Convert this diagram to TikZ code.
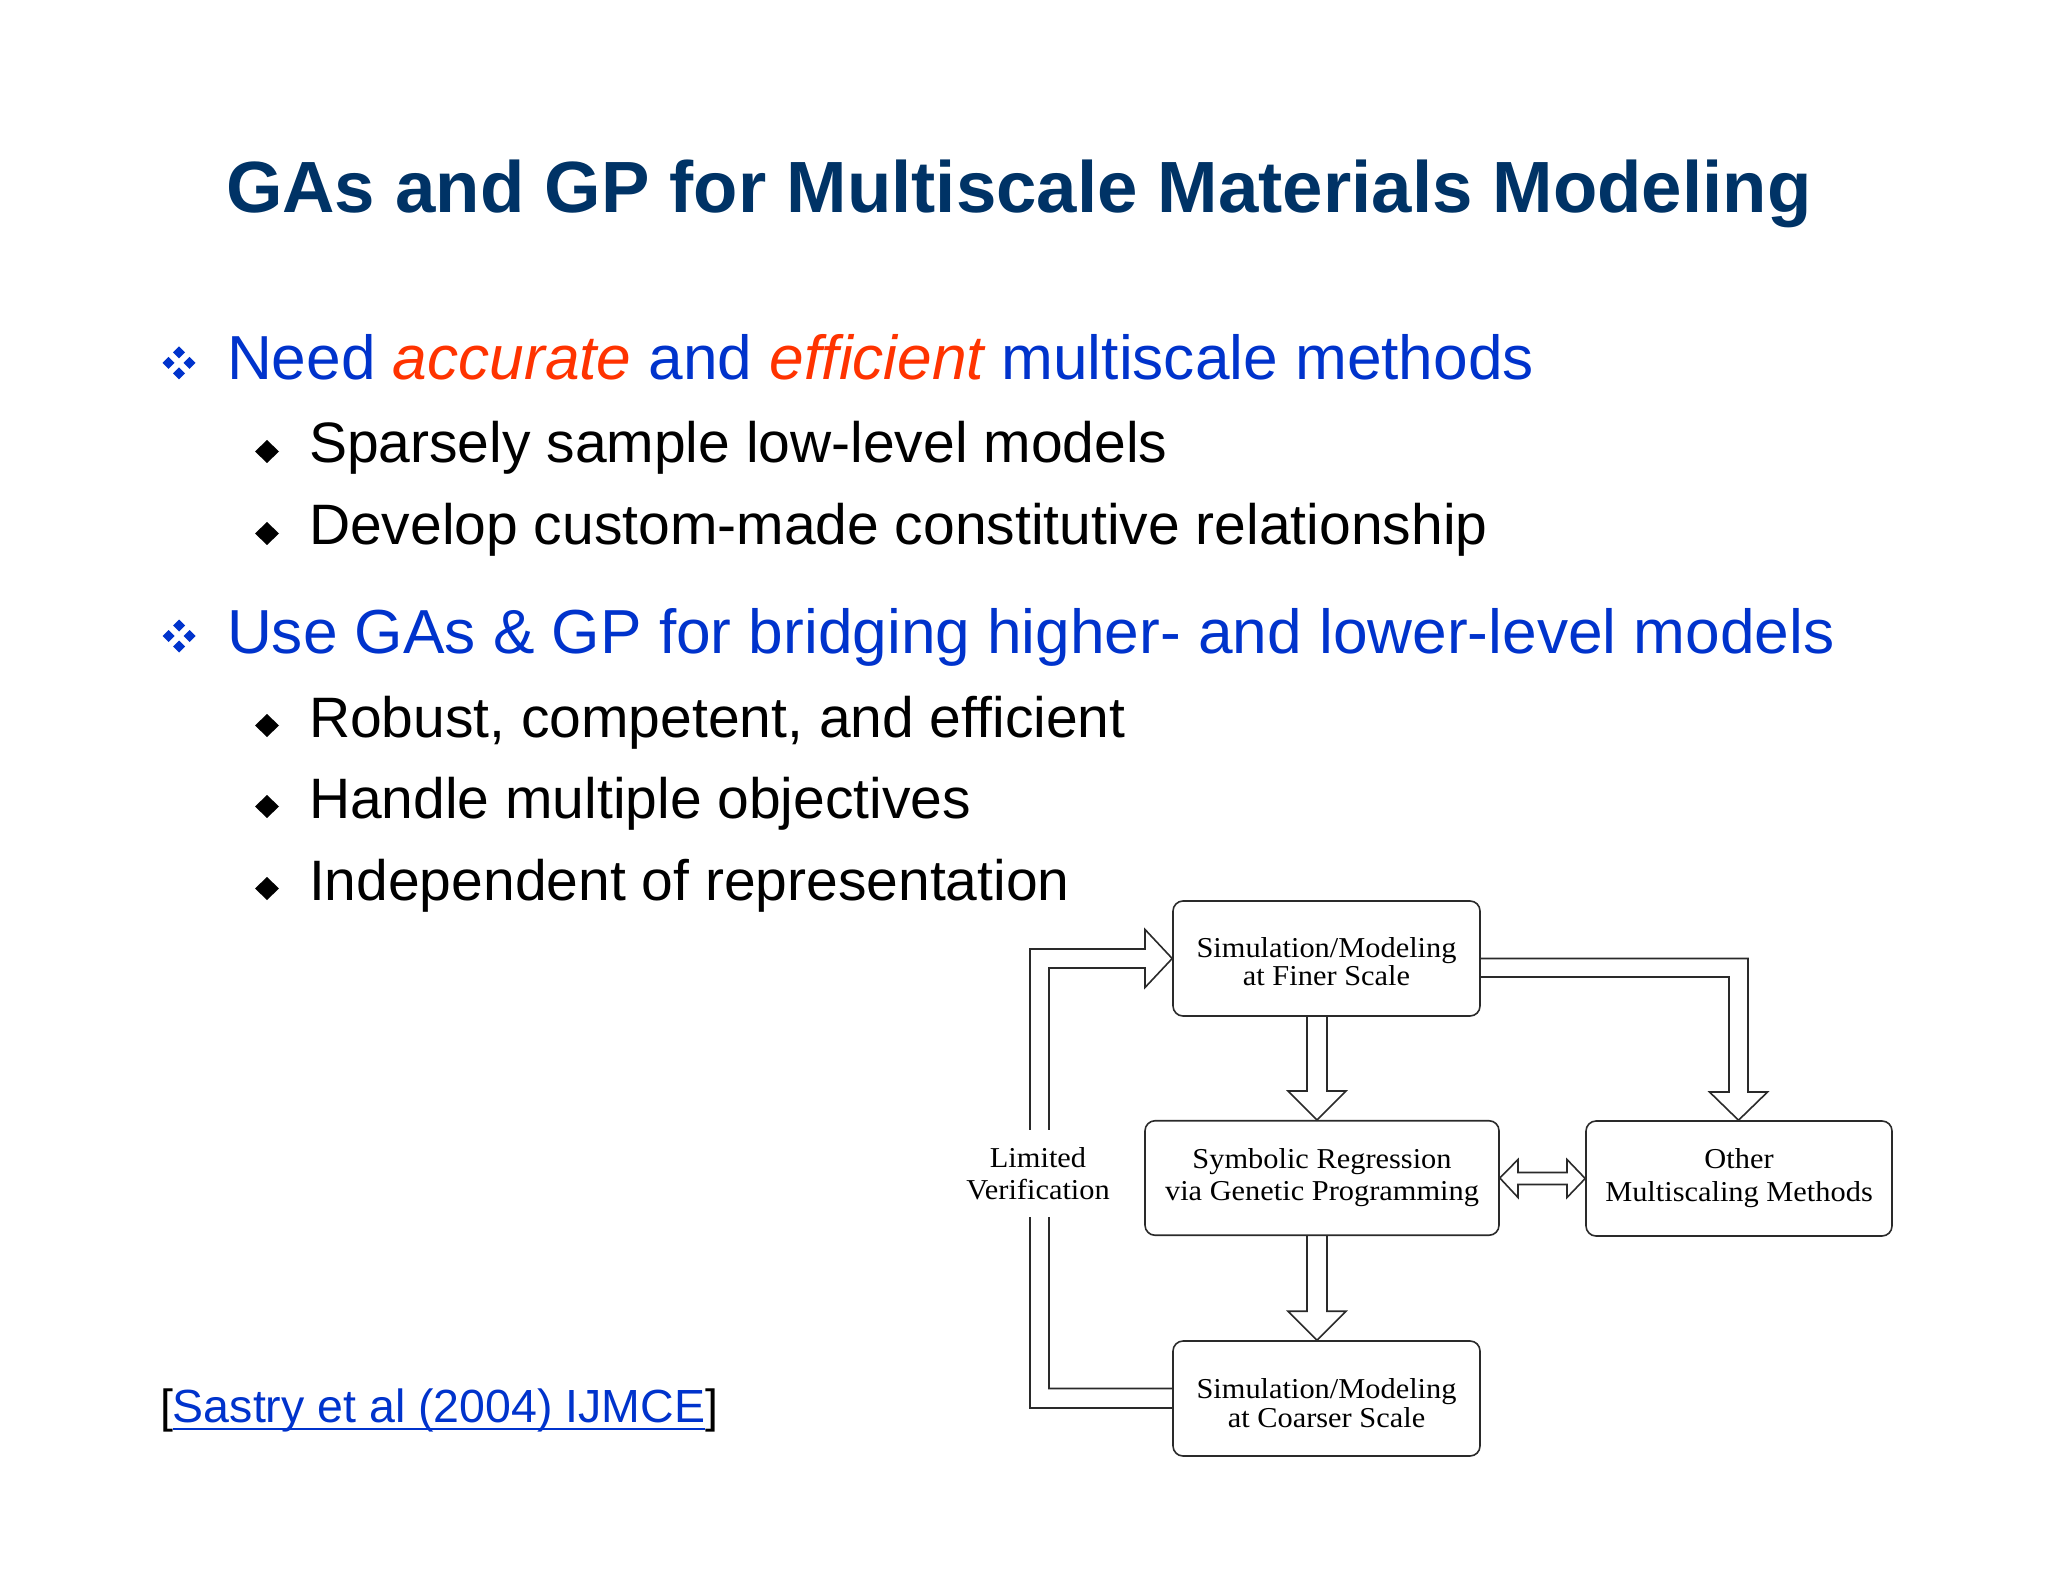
\documentclass[tikz,border=0pt]{standalone}
\usepackage{fontspec}
\setmainfont{Liberation Sans}
\newfontfamily\serifd[FakeStretch=1.055]{Liberation Serif}
\usetikzlibrary{calc}
\definecolor{titleblue}{HTML}{003366}
\definecolor{mainblue}{HTML}{0033CC}
\definecolor{accentred}{HTML}{FF3300}
\definecolor{linecol}{HTML}{2A2A2A}
\newcommand\hollowdown[2]{\draw[hollow] let \p1=(#1), \p2=(#2) in
  (\x1-5pt,\y1) -- (\x1-5pt,\y2+14.5pt) -- (\x1-14.5pt,\y2+14.5pt) -- (\x1,\y2)
  -- (\x1+14.5pt,\y2+14.5pt) -- (\x1+5pt,\y2+14.5pt) -- (\x1+5pt,\y1);}
\begin{document}
\begin{tikzpicture}[x=0.5pt,y=-0.5pt,
  txt/.style={anchor=base west, inner sep=0pt, outer sep=0pt},
  titletxt/.style={txt, font=\fontsize{36.3}{40}\selectfont\bfseries, text=titleblue},
  lvlone/.style={txt, font=\fontsize{31.1}{36}\selectfont, text=mainblue},
  lvltwo/.style={txt, font=\fontsize{28.5}{34}\selectfont, text=black},
  citetxt/.style={txt, font=\fontsize{23.25}{28}\selectfont},
  box/.style={draw=linecol, line width=0.8pt, rounded corners=5pt, align=center,
    inner sep=0pt, minimum width=153.5pt, minimum height=57.5pt},
  hollow/.style={draw=linecol, line width=0.8pt, line join=miter},
  fourdia/.pic={
    \foreach \dx/\dy in {0/-10.5,0/10.5,-10.5/0,10.5/0}
      \fill[mainblue] (\dx,\dy-6) -- (\dx+6,\dy) -- (\dx,\dy+6) -- (\dx-6,\dy) -- cycle;},
  onedia/.pic={\fill[black] (0,-11.5) -- (12,0) -- (0,11.5) -- (-12,0) -- cycle;},
]
\useasboundingbox (0,0) rectangle (2048,1582);
\fill[white] (0,0) rectangle (2048,1582);

% title
\node[titletxt] (title) at (226,213) {GAs and GP for Multiscale Materials Modeling};

% bullets
\pic at (179,363) {fourdia};
\node[lvlone] (b1) at (227,380) {Need \textcolor{accentred}{\itshape accurate} and \textcolor{accentred}{\itshape efficient} multiscale methods};
\pic at (267,451.5) {onedia};
\node[lvltwo] (s1) at (309,463) {Sparsely sample low-level models};
\pic at (267,533.5) {onedia};
\node[lvltwo] (s2) at (309,545) {Develop custom-made constitutive relationship};

\pic at (179,636) {fourdia};
\node[lvlone] (b2) at (227,653) {Use GAs \& GP for bridging higher- and lower-level models};
\pic at (267,725.5) {onedia};
\node[lvltwo] (s3) at (309,737) {Robust, competent, and efficient};
\pic at (267,806.5) {onedia};
\node[lvltwo] (s4) at (309,818) {Handle multiple objectives};
\pic at (267,888.5) {onedia};
\node[lvltwo] (s5) at (309,900) {Independent of representation};

% citation
\node[citetxt] (citel) at (160,1422) {[};
\node[citetxt, text=mainblue] (citet) at (citel.base east) {Sastry et al (2004) IJMCE};
\node[citetxt] (citer) at (citet.base east) {]};
\draw[mainblue, line width=1pt] ($(citet.base west)+(0,7)$) -- ($(citet.base east)+(0,7)$);

% diagram boxes
\node[box, font=\serifd\fontsize{14.4}{14}\selectfont] (finer) at (1326.5,958.5) {\rule{0pt}{13.4pt}Simulation/Modeling\\at Finer Scale};
\node[box, minimum width=177pt, minimum height=57.25pt, font=\serifd\fontsize{14.4}{16}\selectfont] (sr) at (1322,1178) {Symbolic Regression\\via Genetic Programming};
\node[box, minimum width=153pt, font=\serifd\fontsize{14.4}{16.5}\selectfont] (other) at (1739,1178.5) {Other\\Multiscaling Methods};
\node[box, font=\serifd\fontsize{14.4}{14.5}\selectfont] (coarser) at (1326.5,1398.5) {\rule{0pt}{14.5pt}Simulation/Modeling\\at Coarser Scale};

% connectors
\hollowdown{1317,0 |- finer.south}{1317,0 |- sr.north}
\hollowdown{1317,0 |- sr.south}{1317,0 |- coarser.north}

\draw[hollow] (finer.east) -- (1748,0 |- finer.east) -- (1748,1092) -- (1767.5,1092)
  -- (1738.5,0 |- other.north) -- (1709.5,1092) -- (1729,1092) -- (1729,977) -- (1729,977 -| finer.east);

\draw[hollow] (sr.east) -- (1518,1159.5) -- (1518,1172.5) -- (1567,1172.5) -- (1567,1159.5)
  -- (other.west) -- (1567,1197.5) -- (1567,1184.5) -- (1518,1184.5) -- (1518,1197.5) -- cycle;

\draw[hollow] ($(coarser.west)+(0,-10)$) -- (1049,1388.5) -- (1049,968) -- (1145,968) -- (1145,987.5)
  -- (finer.west) -- (1145,929.5) -- (1145,949) -- (1030,949) -- (1030,1408) -- ($(coarser.west)+(0,9.5)$);

\node[fill=white, inner sep=0pt, minimum height=43.5pt, align=center,
  font=\serifd\fontsize{14.4}{16}\selectfont] (limver) at (1038,1173.5) {Limited\\Verification};
\end{tikzpicture}
\end{document}
